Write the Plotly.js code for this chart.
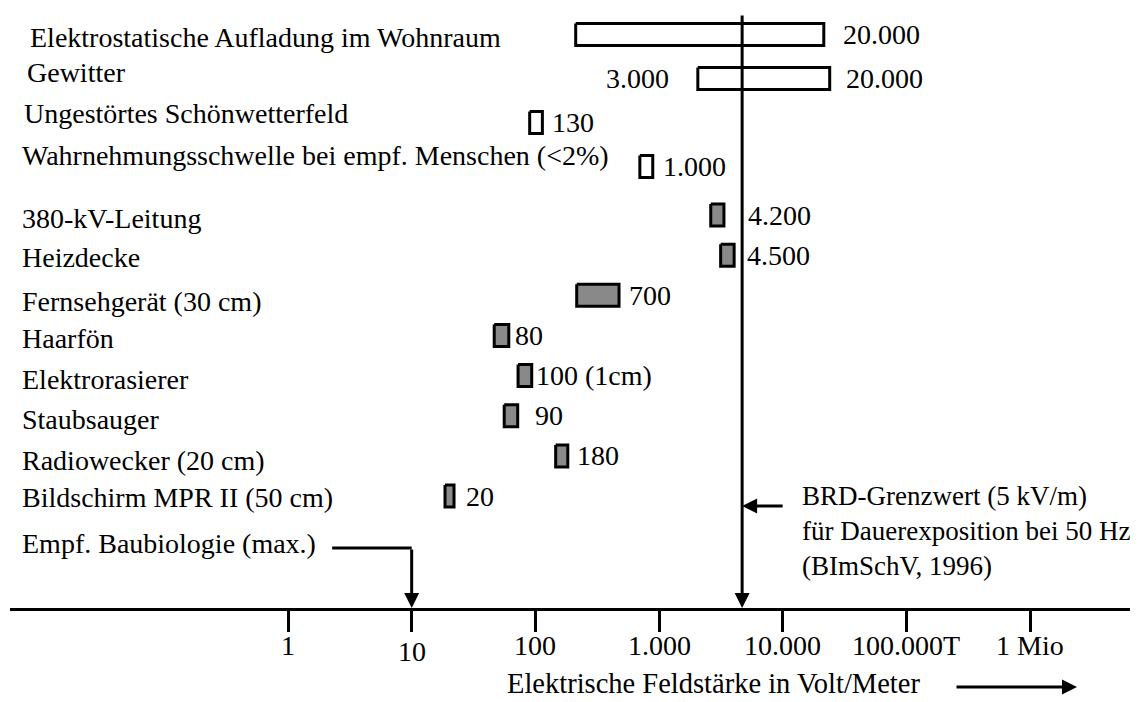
<!DOCTYPE html>
<html>
<head>
<meta charset="utf-8">
<script src="https://cdn.plot.ly/plotly-3.0.1.min.js"></script>
<style>html,body{margin:0;padding:0;background:#fff;}#chart{width:1142px;height:702px;}</style>
</head>
<body>
<div id="chart"></div>
<script>
// ---- data ----
const categories = [
  'Elektrostatische Aufladung im Wohnraum',
  'Gewitter',
  'Ungestörtes Schönwetterfeld',
  'Wahrnehmungsschwelle bei empf. Menschen (<2%)',
  '380-kV-Leitung',
  'Heizdecke',
  'Fernsehgerät (30 cm)',
  'Haarfön',
  'Elektrorasierer',
  'Staubsauger',
  'Radiowecker (20 cm)',
  'Bildschirm MPR II (50 cm)'
];
const lowValues  = [212, 2060, 90, 700, 2620, 3150, 216, 46.5, 72.5, 56, 146, 18.6];
const highValues = [21500, 24000, 114, 890, 3350, 4050, 475, 61, 93.5, 72, 183, 22];
const highLabels = ['20.000', '20.000', '130', '1.000', '4.200', '4.500', '700', '80', '100 (1cm)', '90', '180', '20'];
const lowLabels  = ['', '3.000', '', '', '', '', '', '', '', '', '', ''];
const sourceGroup = ['natural', 'natural', 'natural', 'natural',
  'device', 'device', 'device', 'device', 'device', 'device', 'device', 'device'];
const tickValues = [1, 10, 100, 1000, 10000, 100000, 1000000];
const tickLabels = ['1', '10', '100', '1.000', '10.000', '100.000T', '1 Mio'];
const limitValue = 4700;
const limitLabel = ['BRD-Grenzwert (5 kV/m)', 'für Dauerexposition bei 50 Hz', '(BImSchV, 1996)'];
const recommendValue = 10;
const recommendLabel = 'Empf. Baubiologie (max.)';
const axisTitle = 'Elektrische Feldstärke in Volt/Meter';

// ---- layout helpers (positions / styles) ----
const W = 1142, H = 702;
const M = {l: 10, r: 12, t: 0, b: 94};
const plotH = H - M.t - M.b;          // y axis runs in pixel units
const plotW = W - M.l - M.r;
function rowY(i) { return i < 4 ? 34.5 + 44 * i : 215 + 40.15 * (i - 4); }
const barHalf = 11;
const labelIndent = [29, 26, 23, 21, 21, 21, 21, 21, 21, 21, 21, 21];
const labelYShift = [-2.5, 6.5, 9.5, 11.5, -3, -2, -6, -3, -4, -4, -5, -1];
const valueShift  = [17, 14, 8, 8, 22, 11, 8, 4, 2, 15, 7, 10];
const tickLabelY  = [645, 651, 645, 645, 645, 645, 645];
const FAMILY = 'Liberation Serif, Times New Roman, serif';
const FONT = {family: FAMILY, size: 28, color: '#000'};
const NOTEFONT = {family: FAMILY, size: 27, color: '#000'};
const TITLEFONT = {family: FAMILY, size: 28.5, color: '#000'};
function px2paperX(p) { return (p - M.l) / plotW; }
function px2paperY(p) { return (plotH - (p - M.t)) / plotH; }
const fills = {natural: '#ffffff', device: '#898989'};

const traces = categories.map((c, i) => {
  const y0 = rowY(i) - barHalf, y1 = rowY(i) + barHalf;
  return {
    type: 'scatter', mode: 'lines', name: c,
    x: [lowValues[i], highValues[i], highValues[i], lowValues[i], lowValues[i]],
    y: [y0, y0, y1, y1, y0],
    fill: 'toself', fillcolor: fills[sourceGroup[i]],
    line: {color: '#000', width: 3}, hoverinfo: 'skip'
  };
});

const annotations = [];
categories.forEach((c, i) => {
  annotations.push({
    xref: 'paper', yref: 'y', x: 0, y: rowY(i), xanchor: 'left', yanchor: 'middle',
    xshift: labelIndent[i] - M.l - 1, yshift: labelYShift[i],
    text: c.replace('<', '&lt;'), showarrow: false, font: FONT
  });
  annotations.push({
    xref: 'x', yref: 'y', x: Math.log10(highValues[i]), y: rowY(i),
    xanchor: 'left', yanchor: 'middle', xshift: valueShift[i],
    text: highLabels[i], showarrow: false, font: FONT
  });
  if (lowLabels[i]) {
    annotations.push({
      xref: 'x', yref: 'y', x: Math.log10(lowValues[i]), y: rowY(i),
      xanchor: 'right', yanchor: 'middle', xshift: -27,
      text: lowLabels[i], showarrow: false, font: FONT
    });
  }
});
// tick labels
tickValues.forEach((v, i) => {
  annotations.push({
    xref: 'x', yref: 'paper', x: Math.log10(v), y: px2paperY(tickLabelY[i]),
    xanchor: 'center', yanchor: 'middle', text: tickLabels[i], showarrow: false, font: FONT
  });
});

const arrowStyle = {arrowcolor: '#000', arrowwidth: 3, arrowsize: 1, arrowhead: 2, showarrow: true, text: ''};
annotations.push(Object.assign({}, arrowStyle, {
  xref: 'x', yref: 'y', axref: 'x', ayref: 'y',
  x: Math.log10(limitValue), y: plotH, ax: Math.log10(limitValue), ay: 14
}));
annotations.push(Object.assign({}, arrowStyle, {
  xref: 'x', yref: 'y', x: Math.log10(limitValue), y: 506, ax: 42, ay: 0
}));
annotations.push({
  xref: 'x', yref: 'y', x: Math.log10(limitValue), y: 531, xanchor: 'left', yanchor: 'middle',
  xshift: 58, align: 'left', text: limitLabel.join('<br>'), showarrow: false, font: NOTEFONT
});
annotations.push({
  xref: 'paper', yref: 'y', x: 0, y: 543, xanchor: 'left', yanchor: 'middle',
  xshift: 10, text: recommendLabel, showarrow: false, font: FONT
});
annotations.push(Object.assign({}, arrowStyle, {
  xref: 'x', yref: 'y', x: Math.log10(recommendValue), y: 548, ax: -81, ay: 0, arrowhead: 0
}));
annotations.push(Object.assign({}, arrowStyle, {
  xref: 'x', yref: 'y', axref: 'x', ayref: 'y',
  x: Math.log10(recommendValue), y: plotH, ax: Math.log10(recommendValue), ay: 548
}));
annotations.push({
  xref: 'paper', yref: 'paper', x: px2paperX(505), y: px2paperY(683),
  xanchor: 'left', yanchor: 'middle', text: axisTitle, showarrow: false, font: TITLEFONT
});
annotations.push(Object.assign({}, arrowStyle, {
  xref: 'paper', yref: 'paper', x: px2paperX(1077), y: px2paperY(687), ax: -122, ay: 0
}));

const xMin = (M.l - 288) / 123.67, xMax = (W - M.r - 288) / 123.67;

const layout = {
  width: W, height: H, margin: M,
  paper_bgcolor: '#fff', plot_bgcolor: '#fff', showlegend: false,
  font: FONT,
  xaxis: {
    type: 'log', range: [xMin, xMax], tickvals: tickValues, showticklabels: false,
    showline: true, linecolor: '#000', linewidth: 3, ticks: 'outside', ticklen: 21,
    tickwidth: 3, tickcolor: '#000', showgrid: false, zeroline: false, fixedrange: true
  },
  yaxis: {range: [plotH, 0], visible: false, showgrid: false, zeroline: false, fixedrange: true},
  annotations: annotations
};

Plotly.newPlot('chart', traces, layout, {displayModeBar: false, staticPlot: true});
</script>
</body>
</html>
